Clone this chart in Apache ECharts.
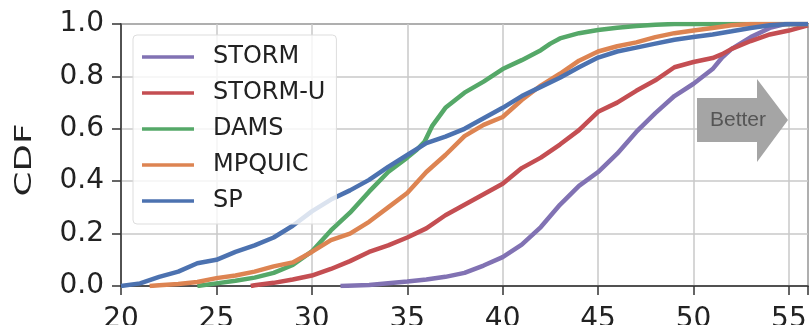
<!DOCTYPE html>
<html>
<head>
<meta charset="utf-8">
<script src="https://cdn.jsdelivr.net/npm/echarts@6/dist/echarts.min.js"></script>
<style>html,body{margin:0;padding:0;background:#fff;}#c{width:809px;height:325px;}</style>
</head>
<body>
<div id="c"></div>
<script>
var seriesNames = ['STORM', 'STORM-U', 'DAMS', 'MPQUIC', 'SP'];
var seriesColors = ['#8172B3', '#C44E52', '#55A868', '#DD8452', '#4C72B0'];
var xTicks = [20, 25, 30, 35, 40, 45, 50, 55];
var yTicks = [0.0, 0.2, 0.4, 0.6, 0.8, 1.0];

var stormX = [31.5, 33, 35, 36, 37, 38, 39, 40, 41, 42, 43, 44, 45, 46, 47, 48, 49, 50, 51, 51.5, 52, 53, 54, 54.8, 56];
var stormY = [0, 0.004, 0.017, 0.025, 0.035, 0.05, 0.078, 0.11, 0.158, 0.225, 0.31, 0.382, 0.435, 0.505, 0.588, 0.66, 0.725, 0.772, 0.828, 0.872, 0.905, 0.95, 0.985, 1.0, 1.0];

var stormuX = [26.8, 27, 28, 29, 30, 31, 32, 33, 34, 35, 36, 37, 38, 39, 40, 41, 42, 43, 44, 45, 46, 47, 48, 49, 50, 51, 51.5, 52, 53, 54, 55, 56];
var stormuY = [0, 0.003, 0.012, 0.025, 0.04, 0.065, 0.095, 0.13, 0.155, 0.185, 0.22, 0.27, 0.31, 0.35, 0.39, 0.45, 0.49, 0.54, 0.595, 0.665, 0.70, 0.745, 0.785, 0.835, 0.855, 0.87, 0.885, 0.905, 0.935, 0.96, 0.975, 0.995];

var damsX = [24, 25, 26, 27, 28, 29, 30, 31, 32, 33, 34, 35, 35.5, 35.9, 36.3, 37, 38, 39, 40, 41, 42, 42.5, 43, 44, 45, 46, 47, 48, 49, 56];
var damsY = [0, 0.01, 0.02, 0.032, 0.05, 0.08, 0.132, 0.212, 0.28, 0.36, 0.435, 0.49, 0.52, 0.55, 0.61, 0.68, 0.738, 0.78, 0.828, 0.862, 0.9, 0.925, 0.945, 0.965, 0.977, 0.986, 0.992, 0.997, 1.0, 1.0];

var mpquicX = [21.5, 22, 23, 24, 25, 26, 27, 28, 29, 30, 31, 32, 33, 34, 35, 36, 37, 38, 39, 40, 41, 42, 43, 44, 45, 46, 47, 48, 49, 50, 51, 52, 53, 56];
var mpquicY = [0, 0.003, 0.008, 0.015, 0.03, 0.04, 0.055, 0.075, 0.09, 0.13, 0.175, 0.2, 0.245, 0.3, 0.355, 0.435, 0.5, 0.572, 0.615, 0.645, 0.71, 0.765, 0.81, 0.86, 0.895, 0.915, 0.93, 0.95, 0.965, 0.975, 0.985, 0.995, 1.0, 1.0];

var spX = [20, 21, 22, 23, 24, 25, 26, 27, 28, 29, 30, 31, 32, 33, 34, 35, 36, 37, 38, 39, 40, 41, 42, 43, 44, 45, 46, 47, 48, 49, 50, 51, 52, 53, 54, 55, 56];
var spY = [0, 0.01, 0.035, 0.055, 0.087, 0.1, 0.13, 0.155, 0.185, 0.23, 0.285, 0.33, 0.365, 0.405, 0.455, 0.5, 0.545, 0.57, 0.6, 0.64, 0.68, 0.725, 0.76, 0.795, 0.835, 0.872, 0.895, 0.91, 0.925, 0.94, 0.95, 0.96, 0.972, 0.985, 0.995, 1.0, 1.0];

var allX = [stormX, stormuX, damsX, mpquicX, spX];
var allY = [stormY, stormuY, damsY, mpquicY, spY];

function pairs(xs, ys) { return xs.map(function (x, i) { return [x, ys[i]]; }); }

var FONT = 'DejaVu Sans';
var chart = echarts.init(document.getElementById('c'), null, { renderer: 'canvas' });

var series = seriesNames.map(function (n, i) {
  return {
    name: n, type: 'line', data: pairs(allX[i], allY[i]),
    showSymbol: false, symbol: 'none', smooth: false,
    lineStyle: { color: seriesColors[i], width: 4.5 },
    itemStyle: { color: seriesColors[i] },
    z: 2 + i
  };
});

chart.setOption({
  animation: false,
  backgroundColor: '#fff',
  grid: { left: 121, right: 1, top: 24, bottom: 39, containLabel: false, outerBoundsMode: 'none',
    show: true, borderColor: '#333', borderWidth: 1.5, backgroundColor: 'transparent' },
  xAxis: {
    type: 'value', min: 20, max: 56, interval: 5,
    axisLine: { show: true, lineStyle: { color: '#333', width: 1.5 } },
    axisTick: { show: true, length: 9, lineStyle: { color: '#333', width: 1.5 } },
    splitLine: { show: true, lineStyle: { color: '#c8c8c8', width: 1.5 } },
    axisLabel: { fontFamily: FONT, fontSize: 28, color: '#222', margin: 20, hideOverlap: false,
      formatter: function (v) { return xTicks.indexOf(v) >= 0 ? String(v) : ''; } }
  },
  yAxis: {
    type: 'value', min: 0, max: 1, interval: 0.2,
    axisLine: { show: true, lineStyle: { color: '#333', width: 1.5 } },
    axisTick: { show: true, length: 9, lineStyle: { color: '#333', width: 1.5 } },
    splitLine: { show: true, lineStyle: { color: '#c8c8c8', width: 1.5 } },
    axisLabel: { fontFamily: FONT, fontSize: 28, color: '#222', margin: 17,
      formatter: function (v) {
        for (var k = 0; k < yTicks.length; k++) { if (Math.abs(yTicks[k] - v) < 1e-6) return yTicks[k].toFixed(1); }
        return '';
      } }
  },
  legend: {
    orient: 'vertical', left: 133, top: 35,
    data: seriesNames,
    icon: 'rect', itemWidth: 52, itemHeight: 3.5, itemGap: 8,
    padding: [8, 11, 9, 9],
    backgroundColor: 'rgba(255,255,255,0.8)', borderColor: '#ddd', borderWidth: 1, borderRadius: 4,
    textStyle: { fontFamily: FONT, fontSize: 24, color: '#222', lineHeight: 28, padding: [0, 0, 0, 14] },
    z: 10
  },
  graphic: [
    { type: 'text', z: 21, x: 25, y: 160, rotation: Math.PI / 2, scaleX: 1.55, scaleY: 1,
      style: { text: 'CDF', fontFamily: FONT, fontSize: 23, fill: '#222', align: 'center', verticalAlign: 'middle' } },
    { type: 'polygon', z: 20,
      shape: { points: [[697, 98], [757, 98], [757, 79], [788, 120], [757, 162], [757, 142], [697, 142]] },
      style: { fill: '#a5a5a5' } },
    { type: 'text', z: 21, x: 738, y: 120,
      style: { text: 'Better', fontFamily: 'Liberation Sans', fontSize: 21, fill: '#555', align: 'center', verticalAlign: 'middle' } }
  ],
  series: series
});
</script>
</body>
</html>
